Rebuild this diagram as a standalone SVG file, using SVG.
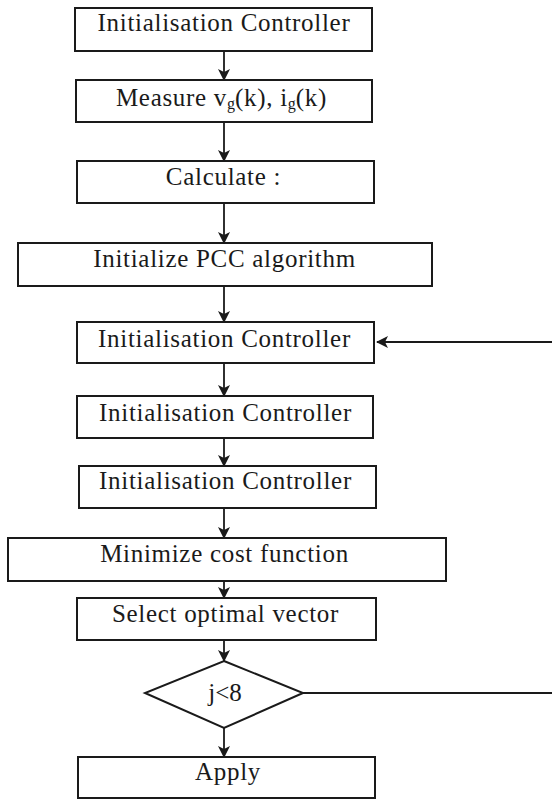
<svg xmlns="http://www.w3.org/2000/svg" width="552" height="800" viewBox="0 0 552 800">
  <style>
    .box { fill: #ffffff; stroke: #1a1a1a; stroke-width: 2; }
    .lbl { font-family: "Liberation Serif", "Times New Roman", serif; font-size: 25px; letter-spacing: 0.7px; fill: #1a1a1a; text-anchor: middle; }
    .sub { font-size: 16px; letter-spacing: 0; }
    .edge { stroke: #1a1a1a; stroke-width: 1.8; fill: none; }
  </style>
  <defs>
    <marker id="arrow" viewBox="0 0 12 12" refX="11" refY="6" markerWidth="12" markerHeight="12" markerUnits="userSpaceOnUse" orient="auto">
      <path d="M0,0 L12,6 L0,12 L3,6 Z" fill="#1a1a1a"/>
    </marker>
  </defs>
  <rect width="552" height="800" fill="#ffffff"/>

  <g id="connectors">
    <line class="edge" x1="224" y1="51" x2="224" y2="80" marker-end="url(#arrow)"/>
    <line class="edge" x1="224" y1="122" x2="224" y2="161" marker-end="url(#arrow)"/>
    <line class="edge" x1="224" y1="203" x2="224" y2="243" marker-end="url(#arrow)"/>
    <line class="edge" x1="224" y1="286" x2="224" y2="322" marker-end="url(#arrow)"/>
    <line class="edge" x1="224" y1="363" x2="224" y2="396" marker-end="url(#arrow)"/>
    <line class="edge" x1="224" y1="438" x2="224" y2="466" marker-end="url(#arrow)"/>
    <line class="edge" x1="224" y1="508" x2="224" y2="538" marker-end="url(#arrow)"/>
    <line class="edge" x1="224" y1="581" x2="224" y2="598" marker-end="url(#arrow)"/>
    <line class="edge" x1="224" y1="640" x2="224" y2="661" marker-end="url(#arrow)"/>
    <line class="edge" x1="224" y1="728" x2="224" y2="757" marker-end="url(#arrow)"/>
    <!-- loop back from the decision to the controller step -->
    <line class="edge" x1="303" y1="693" x2="552" y2="693"/>
    <line class="edge" x1="552" y1="342" x2="377" y2="342" marker-end="url(#arrow)"/>
  </g>

  <g id="init-controller">
    <rect class="box" x="75" y="8" width="297" height="43"/>
    <text class="lbl" x="224" y="31">Initialisation Controller</text>
  </g>

  <g id="measure">
    <rect class="box" x="76" y="80" width="296" height="42"/>
    <text class="lbl" x="221.5" y="106">Measure v<tspan class="sub" dy="3">g</tspan><tspan dy="-3">(k), i</tspan><tspan class="sub" dy="3">g</tspan><tspan dy="-3">(k)</tspan></text>
  </g>

  <g id="calculate">
    <rect class="box" x="77" y="161" width="297" height="42"/>
    <text class="lbl" x="223.5" y="185">Calculate :</text>
  </g>

  <g id="init-pcc">
    <rect class="box" x="18" y="243" width="414" height="43"/>
    <text class="lbl" x="224.5" y="267">Initialize PCC algorithm</text>
  </g>

  <g id="controller-1">
    <rect class="box" x="77" y="322" width="297" height="41"/>
    <text class="lbl" x="224.5" y="347">Initialisation Controller</text>
  </g>

  <g id="controller-2">
    <rect class="box" x="77" y="396" width="296" height="42"/>
    <text class="lbl" x="225.5" y="421">Initialisation Controller</text>
  </g>

  <g id="controller-3">
    <rect class="box" x="79" y="466" width="297" height="42"/>
    <text class="lbl" x="225.5" y="489">Initialisation Controller</text>
  </g>

  <g id="minimize">
    <rect class="box" x="8" y="538" width="438" height="43"/>
    <text class="lbl" x="224.5" y="562">Minimize cost function</text>
  </g>

  <g id="select">
    <rect class="box" x="77" y="598" width="299" height="42"/>
    <text class="lbl" x="225.5" y="622">Select optimal vector</text>
  </g>

  <g id="decision">
    <polygon class="box" points="224,661 303,693 224,728 145,693"/>
    <text class="lbl" x="225" y="701" style="letter-spacing:0">j&lt;8</text>
  </g>

  <g id="apply">
    <rect class="box" x="78" y="757" width="297" height="41"/>
    <text class="lbl" x="228" y="780">Apply</text>
  </g>
</svg>
